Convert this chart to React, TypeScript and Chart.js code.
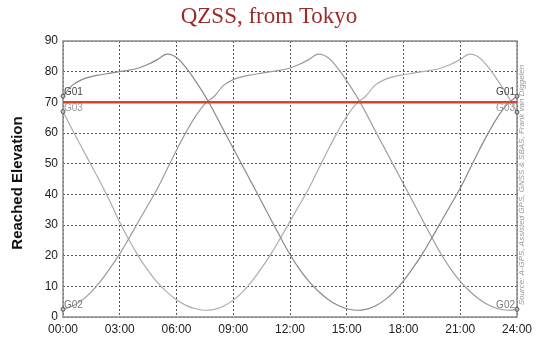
import React, { useEffect, useRef } from "react";
import { Chart, registerables } from "chart.js";

Chart.register(...registerables);

const TITLE = "QZSS, from Tokyo";
const Y_TITLE = "Reached Elevation";
const SOURCE = "Source: A-GPS, Assisted GPS, GNSS & SBAS, Frank van Diggelen";

const X_TICKS = [0, 3, 6, 9, 12, 15, 18, 21, 24];
const X_TICK_LABELS = ["00:00", "03:00", "06:00", "09:00", "12:00", "15:00", "18:00", "21:00", "24:00"];
const Y_TICKS = [0, 10, 20, 30, 40, 50, 60, 70, 80, 90];

const THRESHOLD = 70;

const HOURS = [0, 0.5, 1, 1.5, 2, 2.5, 3, 3.5, 4, 4.5, 5, 5.5, 6, 6.5, 7, 7.5, 8, 8.5, 9, 9.5, 10, 10.5, 11, 11.5, 12, 12.5, 13, 13.5, 14, 14.5, 15, 15.5, 16, 16.5, 17, 17.5, 18, 18.5, 19, 19.5, 20, 20.5, 21, 21.5, 22, 22.5, 23, 23.5, 24];

const SERIES_NAMES = ["G01", "G02", "G03"];

const G01 = [72, 75.6, 77.4, 78.4, 79, 79.5, 80, 80.5, 81.2, 82.4, 84, 85.7, 84.6, 81.3, 77, 72.2, 66.7, 60.8, 55, 49.2, 43.4, 37.6, 31.7, 25.9, 20.4, 15.6, 11.6, 8.4, 5.8, 3.9, 2.7, 2.2, 2.5, 3.6, 5.5, 8.2, 11.8, 16, 20.6, 25.8, 31.2, 36.6, 42, 48.2, 54.4, 60.2, 65.4, 69.5, 72];

const G02 = [2.5, 3.6, 5.5, 8.2, 11.8, 16, 20.6, 25.8, 31.2, 36.6, 42, 48.2, 54.4, 60.2, 65.4, 69.5, 72, 75.6, 77.4, 78.4, 79, 79.5, 80, 80.5, 81.2, 82.4, 84, 85.7, 84.6, 81.3, 77, 72.2, 66.7, 60.8, 55, 49.2, 43.4, 37.6, 31.7, 25.9, 20.4, 15.6, 11.6, 8.4, 5.8, 3.9, 2.7, 2.2, 2.5];

const G03 = [67, 61, 55.2, 49.4, 43.6, 37.5, 30.9, 25, 19.7, 15.1, 11.2, 8.1, 5.6, 3.8, 2.7, 2.2, 2.5, 3.6, 5.5, 8.2, 11.8, 16, 20.6, 25.8, 31.2, 36.6, 42, 48.2, 54.4, 60.2, 65.4, 69.5, 72, 75.6, 77.4, 78.4, 79, 79.5, 80, 80.5, 81.2, 82.4, 84, 85.7, 84.6, 81.3, 77, 72.2, 66.8];

const SERIES_VALUES = [G01, G02, G03];

const LINE_COLORS = ["#8a8a8a", "#9c9c9c", "#adadad"];
const LABEL_COLORS = ["#444444", "#7a7a7a", "#9a9a9a"];

export default function App() {
  const ref = useRef<HTMLCanvasElement>(null);

  useEffect(() => {
    const canvas = ref.current;
    if (!canvas) return;
    const last = HOURS.length - 1;

    const datasets: any[] = [
      {
        label: "limit",
        data: [
          { x: HOURS[0], y: THRESHOLD },
          { x: HOURS[last], y: THRESHOLD },
        ],
        borderColor: "#d8432b",
        borderWidth: 2.5,
        pointRadius: 0,
        clip: false,
      },
      ...SERIES_VALUES.map((vals, i) => ({
        label: SERIES_NAMES[i],
        data: HOURS.map((h, j) => ({ x: h, y: vals[j] })),
        borderColor: LINE_COLORS[i],
        borderWidth: 1.2,
        tension: 0.4,
        pointRadius: (c: any) => (c.dataIndex === 0 || c.dataIndex === last ? 2 : 0),
        pointBackgroundColor: "#bbbbbb",
        pointBorderColor: "#555555",
        pointBorderWidth: 1,
        clip: false,
      })),
    ];

    const deco = {
      id: "deco",
      beforeDatasetsDraw(chart: any) {
        const { ctx, chartArea: a } = chart;
        ctx.save();
        ctx.strokeStyle = "#8c8c8c";
        ctx.lineWidth = 1.5;
        ctx.strokeRect(a.left, a.top, a.right - a.left, a.bottom - a.top);
        ctx.restore();
      },
      afterDraw(chart: any) {
        const { ctx, scales } = chart;
        ctx.save();
        ctx.font = '23px "Liberation Serif"';
        ctx.fillStyle = "#9b2a2a";
        ctx.textAlign = "center";
        ctx.textBaseline = "alphabetic";
        ctx.fillText(TITLE, 269, 23);

        ctx.save();
        ctx.translate(21.5, 183);
        ctx.rotate(-Math.PI / 2);
        ctx.font = 'bold 15px "Liberation Sans"';
        ctx.fillStyle = "#111111";
        ctx.textAlign = "center";
        ctx.fillText(Y_TITLE, 0, 0);
        ctx.restore();

        ctx.save();
        ctx.translate(523.5, 185);
        ctx.rotate(-Math.PI / 2);
        ctx.font = 'italic 8px "Liberation Sans"';
        ctx.fillStyle = "#9a9a9a";
        ctx.textAlign = "center";
        ctx.fillText(SOURCE, 0, 0);
        ctx.restore();

        ctx.font = '10px "Liberation Sans"';
        SERIES_VALUES.forEach((vals, i) => {
          ctx.fillStyle = LABEL_COLORS[i];
          const x0 = scales.x.getPixelForValue(HOURS[0]);
          const y0 = scales.y.getPixelForValue(vals[0]);
          ctx.textAlign = "left";
          ctx.fillText(SERIES_NAMES[i], x0 + 1, y0 - 1);
          const x1 = scales.x.getPixelForValue(HOURS[last]);
          const y1 = scales.y.getPixelForValue(vals[last]);
          ctx.textAlign = "right";
          ctx.fillText(SERIES_NAMES[i], x1 - 2, y1 - 1);
        });
        ctx.restore();
      },
    };

    const tickFont = { family: '"Liberation Sans", Arial, sans-serif', size: 12 };

    const chart = new Chart(canvas, {
      type: "line",
      data: { datasets },
      plugins: [deco],
      options: {
        animation: false,
        responsive: false,
        events: [],
        layout: { padding: { top: 41, right: 23, left: 0, bottom: 0 } },
        plugins: { legend: { display: false }, tooltip: { enabled: false }, title: { display: false } },
        scales: {
          x: {
            type: "linear",
            min: X_TICKS[0],
            max: X_TICKS[X_TICKS.length - 1],
            afterBuildTicks: (s: any) => {
              s.ticks = X_TICKS.map((v) => ({ value: v }));
            },
            afterFit: (s: any) => {
              s.height = 31;
            },
            ticks: {
              autoSkip: false,
              maxRotation: 0,
              padding: 5,
              color: "#222222",
              font: tickFont,
              callback: (v: any) => X_TICK_LABELS[X_TICKS.indexOf(Number(v))] ?? "",
            },
            grid: { color: "#555555", lineWidth: 1, drawTicks: false },
            border: { display: false, dash: [2, 2] },
          },
          y: {
            type: "linear",
            min: Y_TICKS[0],
            max: Y_TICKS[Y_TICKS.length - 1],
            afterBuildTicks: (s: any) => {
              s.ticks = Y_TICKS.map((v) => ({ value: v }));
            },
            afterFit: (s: any) => {
              s.width = 63;
            },
            ticks: { padding: 5, color: "#222222", font: tickFont },
            grid: { color: "#555555", lineWidth: 1, drawTicks: false },
            border: { display: false, dash: [2, 2] },
          },
        },
      } as any,
    });

    return () => chart.destroy();
  }, []);

  return (
    <div style={{ position: "fixed", left: 0, top: 0, width: 540, height: 348, background: "#ffffff" }}>
      <canvas ref={ref} width={540} height={348} style={{ display: "block" }} />
    </div>
  );
}
